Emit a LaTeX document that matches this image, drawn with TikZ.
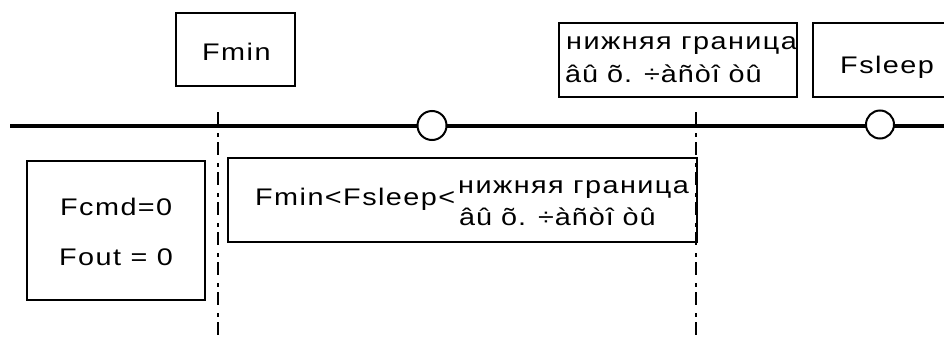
\documentclass[tikz,border=0pt]{standalone}
\usepackage{fontspec}
\setmainfont{Liberation Sans}[FakeStretch=1.2,LetterSpace=6]
\newfontfamily\accfont{Liberation Sans}[FakeStretch=1.2,LetterSpace=4]
\begin{document}
\begin{tikzpicture}[x=1pt,y=-1pt,
  box/.style={draw=black,line width=2pt,inner sep=0pt,anchor=center},
  txt/.style={inner sep=0pt,anchor=base west,font=\fontsize{24}{28}\selectfont},
  acc/.style={inner sep=0pt,anchor=base west,font=\fontsize{24}{28}\selectfont\accfont},
  axis/.style={line width=3.2pt},
  dashdot/.style={line width=2.8pt,dash pattern=on 13pt off 8pt on 4pt off 5pt},
  knot/.style={circle,draw=black,fill=white,line width=2pt,inner sep=0pt,minimum size=28pt}]
\clip (0,0) rectangle (944,343);
\fill[white] (0,0) rectangle (944,343);
% boxes
\node[box,minimum width=119pt,minimum height=73pt] (fmin) at (235.5,49.5) {};
\node[box,minimum width=238pt,minimum height=74pt] (low) at (678,60) {};
\node[box,minimum width=148pt,minimum height=74pt] (fsl) at (887,60) {};
\node[box,minimum width=178pt,minimum height=139pt] (fcmd) at (116,230.5) {};
\node[box,minimum width=469pt,minimum height=84pt] (range) at (462.5,200) {};
% axis
\coordinate (axL) at (10,126);
\coordinate (axR) at (950,126);
\draw[axis] (axL) -- (axR);
% dash-dot lines
\coordinate (d1t) at (218,112);
\coordinate (d1b) at (218,336);
\coordinate (d2t) at (696,112);
\coordinate (d2b) at (696,336);
\draw[dashdot] (d1t) -- (d1b);
\draw[dashdot] (d2t) -- (d2b);
% circles
\node[knot,minimum size=29pt] (c1) at (432,125.5) {};
\node[knot] (c2) at (880,124.5) {};
% texts
\node[txt] (tfmin) at (202,60) {Fmin};
\node[txt] (tlow1) at (566,49) {нижняя граница};
\node[acc] (tlow2) at (565,82) {âû õ. ÷àñòî òû};
\node[txt] (tfsl) at (840,73) {Fsleep};
\node[txt] (tfcmd) at (60,215) {Fcmd=0};
\node[txt] (tfout) at (59,265) {Fout = 0};
\node[txt] (trange) at (255,205) {Fmin<Fsleep<};
\node[txt] (trl1) at (458,193) {нижняя граница};
\node[acc] (trl2) at (459,225) {âû õ. ÷àñòî òû};
\end{tikzpicture}
\end{document}
